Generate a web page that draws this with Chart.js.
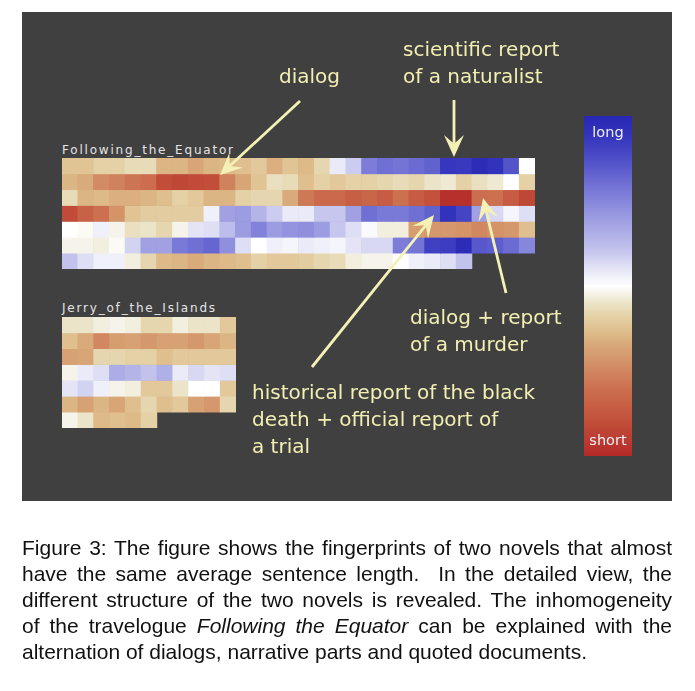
<!DOCTYPE html>
<html>
<head>
<meta charset="utf-8">
<script src="https://cdn.jsdelivr.net/npm/chart.js@4/dist/chart.umd.min.js"></script>
<style>
	html, body { margin: 0; padding: 0; background: #fff; }
	body { position: relative; width: 695px; height: 691px; overflow: hidden; }
	#panel { position: absolute; left: 22px; top: 12px; width: 650px; height: 489px; background: #404040; }
	canvas, svg { position: absolute; }
	.name { position: absolute; font-family: "DejaVu Sans", sans-serif; font-size: 12px; letter-spacing: 1.8px; color: #e4e4e4; white-space: nowrap; }
	.note { position: absolute; font-family: "DejaVu Sans", sans-serif; font-size: 20px; line-height: 27px; color: #f2efb2; white-space: nowrap; }
	.scale { position: absolute; width: 48px; text-align: center; font-family: "DejaVu Sans", sans-serif; font-size: 14.5px; color: #eeeef6; }
	#caption { position: absolute; left: 22px; top: 535px; width: 650px; font-family: "Liberation Sans", Arial, sans-serif; font-size: 21px; line-height: 26px; color: #111; }
	#caption div { text-align: justify; text-align-last: justify; white-space: nowrap; }
	#caption div.last { text-align-last: left; }
</style>
</head>
<body>
<div id="panel"></div>

<div class="name" style="left:62px; top:143px;">Following_the_Equator</div>
<canvas id="equator" width="473" height="111" style="left:62px; top:158px;"></canvas>

<div class="name" style="left:62px; top:301px;">Jerry_of_the_Islands</div>
<canvas id="jerry" width="174" height="111" style="left:62px; top:317px;"></canvas>

<canvas id="colorbar" width="48" height="340" style="left:584px; top:116px;"></canvas>
<div class="scale" style="left:584px; top:124px;">long</div>
<div class="scale" style="left:584px; top:432px;">short</div>

<svg id="arrows" width="695" height="691" style="left:0; top:0;"></svg>

<div class="note" style="left:279px; top:63px;">dialog</div>
<div class="note" style="left:403px; top:36px;">scientific report<br>of a naturalist</div>
<div class="note" style="left:410px; top:304px;">dialog + report<br>of a murder</div>
<div class="note" style="left:252px; top:379px;">historical report of the black<br>death + official report of<br>a trial</div>

<div id="caption">
	<div>Figure 3: The figure shows the fingerprints of two novels that almost</div>
	<div>have the same average sentence length.&nbsp; In the detailed view, the</div>
	<div>different structure of the two novels is revealed. The inhomogeneity</div>
	<div>of the travelogue <i>Following the Equator</i> can be explained with the</div>
	<div class="last">alternation of dialogs, narrative parts and quoted documents.</div>
</div>

<script>
// sentence length per text block, 0 = short ... 100 = long (one array per row)
const equatorRow1 = [38, 38, 41, 41, 43, 43, 35, 35, 32, 35, 36, 37, 39, 34, 38, 36, 42, 54, 59, 77, 80, 79, 81, 83, 94, 93, 98, 95, 86, 50];
const equatorRow2 = [35, 33, 26, 24, 21, 19, 10, 8, 9, 10, 24, 32, 38, 44, 43, 37, 41, 39, 41, 41, 42, 43, 42, 45, 46, 41, 44, 46, 50, 41];
const equatorRow3 = [43, 35, 36, 34, 34, 35, 37, 41, 39, 35, 35, 41, 42, 42, 33, 22, 18, 18, 15, 17, 14, 20, 14, 11, 2, 2, 19, 20, 14, 8];
const equatorRow4 = [9, 16, 20, 28, 38, 40, 40, 40, 40, 53, 69, 70, 64, 59, 54, 54, 60, 60, 69, 80, 78, 78, 80, 83, 95, 90, 69, 57, 52, 56];
const equatorRow5 = [50, 49, 53, 48, 44, 45, 42, 48, 55, 56, 62, 70, 76, 70, 72, 73, 70, 60, 56, 51, 47, 47, 30, 29, 29, 28, 25, 28, 29, 37];
const equatorRow6 = [48, 48, 47, 49, 58, 69, 69, 78, 80, 82, 73, 56, 50, 53, 52, 54, 53, 52, 55, 57, 57, 77, 79, 91, 92, 98, 85, 84, 81, 75];
const equatorRow7 = [61, 56, 53, 53, 47, 42, 36, 35, 33, 35, 36, 37, 41, 39, 39, 40, 42, 43, 47, 48, 48, 50, 53, 54, 56, 61, null, null, null, null];

const jerryRow1 = [45, 45, 47, 48, 47, 42, 42, 47, 45, 45, 39];
const jerryRow2 = [37, 33, 25, 30, 31, 29, 31, 31, 29, 32, 35];
const jerryRow3 = [31, 32, 42, 42, 41, 41, 37, 39, 39, 39, 39];
const jerryRow4 = [48, 54, 56, 66, 64, 61, 65, 54, 57, 55, 56];
const jerryRow5 = [55, 58, 53, 48, 47, 39, 39, 45, 50, 50, 39];
const jerryRow6 = [35, 31, 35, 32, 37, 42, 37, 39, 31, 29, 42];
const jerryRow7 = [48, 45, 36, 37, 36, 41, null, null, null, null, null];

// colour scale short (red) -> white -> long (blue)
const scaleStops = [0, 10, 20, 28, 33, 37, 41, 45, 48, 50, 53, 56, 60, 65, 70, 75, 80, 85, 90, 95, 100];
const scaleColors = ['#b42a28', '#c24e3a', '#cc7050', '#d49468', '#d9aa7a', '#dfbf8e', '#e4d1a6', '#ece4c8', '#f6f4ea', '#ffffff',
	'#f0f0fa', '#dedef4', '#c6c6ee', '#b0b0e8', '#9c9ce2', '#8686dc', '#7070d4', '#5858cc', '#4444c4', '#3232bc', '#2828b4'];

function hexRgb(h) {
	return [parseInt(h.slice(1, 3), 16), parseInt(h.slice(3, 5), 16), parseInt(h.slice(5, 7), 16)];
}
function colorFor(v) {
	if (v == null) return 'rgba(0,0,0,0)';
	for (let i = 1; i < scaleStops.length; i++) {
		if (v <= scaleStops[i]) {
			const t = (v - scaleStops[i - 1]) / (scaleStops[i] - scaleStops[i - 1]);
			const a = hexRgb(scaleColors[i - 1]), b = hexRgb(scaleColors[i]);
			const c = a.map((x, k) => Math.round(x + (b[k] - x) * t));
			return 'rgb(' + c.join(',') + ')';
		}
	}
	return scaleColors[scaleColors.length - 1];
}

const fingerprint = {
	draw(id, rows) {
		new Chart(document.getElementById(id), {
			type: 'bar',
			data: {
				labels: rows[0].map((v, i) => i + 1),
				datasets: rows.map((row, r) => ({
					label: 'row ' + (r + 1),
					data: row.map(v => v == null ? null : [r, r + 1]),
					backgroundColor: row.map(colorFor),
					borderWidth: 0,
					barPercentage: 1,
					categoryPercentage: 1
				}))
			},
			options: {
				responsive: false,
				animation: false,
				devicePixelRatio: 1,
				layout: { padding: 0 },
				plugins: { legend: { display: false }, tooltip: { enabled: false } },
				scales: {
					x: { display: false, stacked: true, offset: true },
					y: { display: false, min: 0, max: rows.length, reverse: true }
				}
			}
		});
	},
	main() {
		this.draw('equator', [equatorRow1, equatorRow2, equatorRow3, equatorRow4, equatorRow5, equatorRow6, equatorRow7]);
		this.draw('jerry', [jerryRow1, jerryRow2, jerryRow3, jerryRow4, jerryRow5, jerryRow6, jerryRow7]);
	}
};
fingerprint.main();

const legendBar = {
	main() {
		new Chart(document.getElementById('colorbar'), {
			type: 'bar',
			data: {
				labels: ['length'],
				datasets: [{
					data: [[0, 100]],
					borderWidth: 0,
					barPercentage: 1,
					categoryPercentage: 1,
					backgroundColor: (context) => {
						const chart = context.chart;
						const area = chart.chartArea;
						if (!area) return null;
						const g = chart.ctx.createLinearGradient(0, area.bottom, 0, area.top);
						scaleStops.forEach((s, i) => g.addColorStop(s / 100, scaleColors[i]));
						return g;
					}
				}]
			},
			options: {
				responsive: false,
				animation: false,
				devicePixelRatio: 1,
				layout: { padding: 0 },
				plugins: { legend: { display: false }, tooltip: { enabled: false } },
				scales: {
					x: { display: false },
					y: { display: false, min: 0, max: 100 }
				}
			}
		});
	}
};
legendBar.main();

// annotation arrows (tail -> tip)
const arrows = [
	{ from: [300, 101], to: [220, 175] },
	{ from: [454, 100], to: [454, 157] },
	{ from: [506, 293], to: [483, 198] },
	{ from: [312, 367], to: [434, 215] }
];
const svg = document.getElementById('arrows');
const ns = 'http://www.w3.org/2000/svg';
arrows.forEach(a => {
	const dx = a.to[0] - a.from[0], dy = a.to[1] - a.from[1];
	const len = Math.hypot(dx, dy);
	const ux = dx / len, uy = dy / len, nx = -uy, ny = ux;
	const L = 22, W = 10;
	const neck = [a.to[0] - ux * L * 0.6, a.to[1] - uy * L * 0.6];
	const line = document.createElementNS(ns, 'line');
	line.setAttribute('x1', a.from[0]);
	line.setAttribute('y1', a.from[1]);
	line.setAttribute('x2', neck[0]);
	line.setAttribute('y2', neck[1]);
	line.setAttribute('stroke', '#f4f1b6');
	line.setAttribute('stroke-width', 2.8);
	svg.appendChild(line);
	const head = document.createElementNS(ns, 'polygon');
	const pts = [
		a.to,
		[a.to[0] - ux * L + nx * W, a.to[1] - uy * L + ny * W],
		neck,
		[a.to[0] - ux * L - nx * W, a.to[1] - uy * L - ny * W]
	];
	head.setAttribute('points', pts.map(p => p.join(',')).join(' '));
	head.setAttribute('fill', '#f4f1b6');
	svg.appendChild(head);
});
</script>
</body>
</html>
